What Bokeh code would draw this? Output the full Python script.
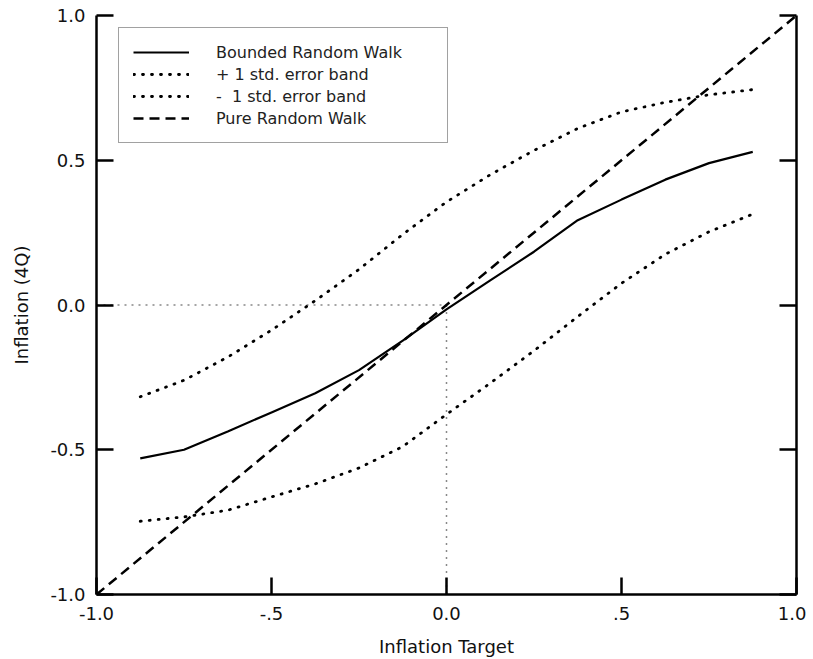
from bokeh.plotting import figure
from bokeh.models import FixedTicker, Range1d, LinearAxis
from bokeh.embed import file_html
from bokeh.resources import INLINE

# ---- data ----
x_target = [-0.875, -0.75, -0.625, -0.5, -0.375, -0.25, -0.125, 0.0,
            0.125, 0.25, 0.375, 0.5, 0.625, 0.75, 0.875]
bounded_rw = [-0.530, -0.500, -0.437, -0.371, -0.305, -0.225, -0.123, -0.015,
              0.085, 0.184, 0.293, 0.364, 0.433, 0.490, 0.529]
upper_band = [-0.317, -0.260, -0.180, -0.087, 0.015, 0.123, 0.244, 0.356,
              0.450, 0.534, 0.610, 0.667, 0.700, 0.726, 0.744]
lower_band = [-0.747, -0.732, -0.709, -0.663, -0.618, -0.563, -0.489, -0.378,
              -0.270, -0.158, -0.040, 0.075, 0.175, 0.253, 0.314]
pure_x = [-1.0, 1.0]
pure_y = [-1.0, 1.0]
guide_x = [-1.0, 0.0, 0.0]
guide_y = [0.0, 0.0, -1.0]
tick_values = [-1.0, -0.5, 0.0, 0.5, 1.0]
x_tick_labels = ["-1.0", "-.5", "0.0", ".5", "1.0"]
y_tick_labels = ["-1.0", "-0.5", "0.0", "0.5", "1.0"]
series_labels = ["Bounded Random Walk", "+ 1 std. error band",
                 "-  1 std. error band", "Pure Random Walk"]

FONT = "DejaVu Sans"

p = figure(width=806, height=659,
           x_range=Range1d(-1, 1), y_range=Range1d(-1, 1),
           output_backend="svg", toolbar_location=None,
           min_border_left=96, min_border_right=10,
           min_border_top=15, min_border_bottom=64,
           x_axis_label="Inflation Target", y_axis_label="Inflation (4Q)")
p.outline_line_color = None
p.xgrid.grid_line_color = None
p.ygrid.grid_line_color = None
p.background_fill_color = "white"
p.border_fill_color = "white"

right_axis = LinearAxis()
p.add_layout(right_axis, "right")


def style_axis(ax, labels, show_labels=True):
    ax.ticker = FixedTicker(ticks=tick_values)
    ax.major_label_overrides = {v: (l if show_labels else "")
                                for v, l in zip(tick_values, labels)}
    ax.major_tick_in = 17
    ax.major_tick_out = 0
    ax.minor_tick_in = 0
    ax.minor_tick_out = 0
    ax.axis_line_width = 2.5
    ax.axis_line_color = "black"
    ax.major_tick_line_width = 2.5
    ax.major_tick_line_color = "black"
    ax.major_label_text_font = FONT
    ax.major_label_text_font_size = "18px" if show_labels else "1px"
    ax.major_label_text_color = "#111111"
    ax.axis_label_text_font = FONT
    ax.axis_label_text_font_size = "18px"
    ax.axis_label_text_font_style = "normal"
    ax.axis_label_text_color = "#111111"


style_axis(p.xaxis[0], x_tick_labels)
p.xaxis[0].major_label_standoff = 12
p.xaxis[0].axis_label_standoff = 13
style_axis(p.yaxis[0], y_tick_labels)
p.yaxis[0].major_label_standoff = 11
p.yaxis[0].axis_label_standoff = 15
style_axis(right_axis, y_tick_labels, show_labels=False)
right_axis.major_label_standoff = 0

# reference guides at zero
p.line(guide_x, guide_y, line_color="#888888", line_width=1.5,
       line_dash="2 5")

p.line(x_target, bounded_rw, line_color="black", line_width=2.2,
       legend_label=series_labels[0])
p.line(x_target, upper_band, line_color="black", line_width=2.8,
       line_dash="1 8", line_cap="round", legend_label=series_labels[1])
p.line(x_target, lower_band, line_color="black", line_width=2.8,
       line_dash="1 8", line_cap="round", legend_label=series_labels[2])
p.line(pure_x, pure_y, line_color="black", line_width=2.5,
       line_dash="10 6", legend_label=series_labels[3])

lg = p.legend[0]
lg.location = (22, 451)
lg.margin = 0
lg.padding = 14
lg.spacing = 2
lg.glyph_width = 56
lg.glyph_height = 20
lg.label_height = 20
lg.label_standoff = 27
lg.label_width = 217
lg.label_text_font = FONT
lg.label_text_font_size = "16px"
lg.label_text_color = "#222222"
lg.border_line_color = "#444444"
lg.border_line_width = 1.5
lg.background_fill_color = "white"
lg.background_fill_alpha = 1.0

open("out.html", "w").write(file_html(p, INLINE))
